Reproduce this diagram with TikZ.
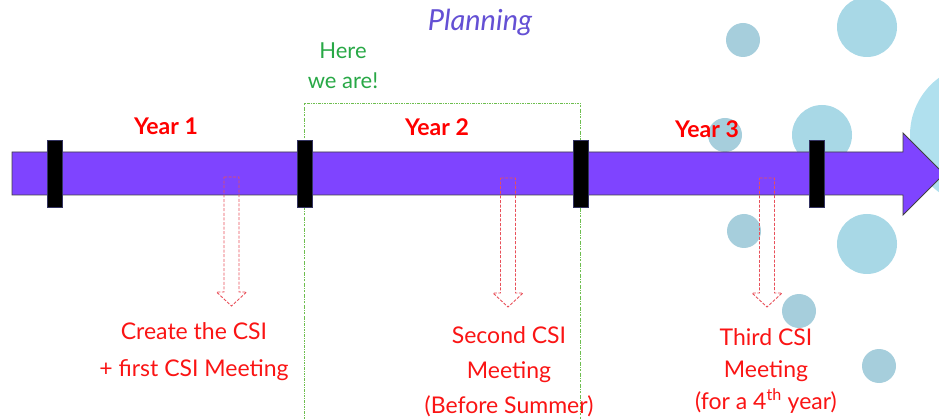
\documentclass[tikz,border=0pt]{standalone}
\usepackage{fontspec}
\setmainfont{Lato}
\usetikzlibrary{calc}
\definecolor{barpurple}{RGB}{127,68,255}
\definecolor{redtxt}{RGB}{250,20,20}
\definecolor{greentxt}{RGB}{40,168,70}
\definecolor{plantxt}{RGB}{100,80,212}
\definecolor{bubA}{RGB}{166,206,220}
\definecolor{bubB}{RGB}{168,216,230}
\definecolor{bubC}{RGB}{176,224,238}
\definecolor{reddash}{RGB}{232,80,90}
\definecolor{greenbox}{RGB}{110,190,80}
\begin{document}
\begin{tikzpicture}[x=1pt,y=-1pt,
  bubble/.style={draw=none},
  tickbar/.style={fill=black,draw=black!70!blue!60!gray,line width=0.8pt},
  yearlbl/.style={text=red,font=\fontsize{23}{27}\selectfont\bfseries,inner sep=0pt},
  evtlbl/.style={text=redtxt,font=\fontsize{23}{34}\selectfont,align=center,inner sep=0pt},
  downarr/.pic={\draw[reddash,dashed,dash pattern=on 3pt off 1.6pt,line width=0.9pt]
     (-7.5,0) -- (7.5,0) -- (7.5,115) -- (15,115) -- (0,129) -- (-15,115) -- (-7.5,115) -- cycle;}
]
\useasboundingbox (0,0) rectangle (939,419);
% bubbles
\begin{scope}
\clip (0,0) rectangle (939,419);
\fill[bubA] (743,40) circle (17);
\fill[bubB] (867,27) circle (30);
\fill[bubC] (981,135) circle (71);
\fill[bubB] (822,135) circle (30);
\fill[bubA] (725,135) circle (17);
\fill[bubA] (744,231) circle (17);
\fill[bubB] (867,244) circle (30);
\fill[bubA] (799,311) circle (17);
\fill[bubA] (879,366) circle (17);
% green "here we are" box
\draw[greenbox,dash pattern=on 2.5pt off 1.2pt on 0.6pt off 1.2pt,line width=0.7pt]
  (304,430) -- (304,103) -- (580,103) -- (580,430);
% main timeline arrow
\draw[fill=barpurple,draw=black!75,line width=0.9pt]
  (12,152) -- (903,152) -- (903,133) -- (944,174) -- (903,215) -- (903,195) -- (12,195) -- cycle;
\end{scope}
% ticks
\draw[tickbar] (47,140) rectangle (62,207);
\draw[tickbar] (297,140) rectangle (312,207);
\draw[tickbar] (573,140) rectangle (588,207);
\draw[tickbar] (809,140) rectangle (824,207);
% dashed hollow arrows
\pic at (231.5,177) {downarr};
\pic at (508,178) {downarr};
\pic at (767,178) {downarr};
% labels
\node[text=plantxt,font=\fontsize{29}{32}\selectfont\itshape,inner sep=0pt] (plan) at (480,22) {Planning};
\node[text=greentxt,font=\fontsize{22}{30}\selectfont,align=center,inner sep=0pt] (here) at (343,66) {Here\\we are!};
\node[yearlbl] (y1) at (166,126) {Year 1};
\node[yearlbl] (y2) at (437,127) {Year 2};
\node[yearlbl] (y3) at (707,129) {Year 3};
\node[evtlbl,font=\fontsize{23}{37}\selectfont] (e1) at (194,352) {Create the CSI\\+ first CSI Meeting};
\node[evtlbl,font=\fontsize{23}{35}\selectfont] (e2) at (509,372) {Second CSI\\Meeting\\(Before Summer)};
\node[evtlbl,font=\fontsize{23}{32}\selectfont] (e3) at (766,371) {Third CSI\\Meeting\\(for a 4\textsuperscript{th} year)};
\end{tikzpicture}
\end{document}
